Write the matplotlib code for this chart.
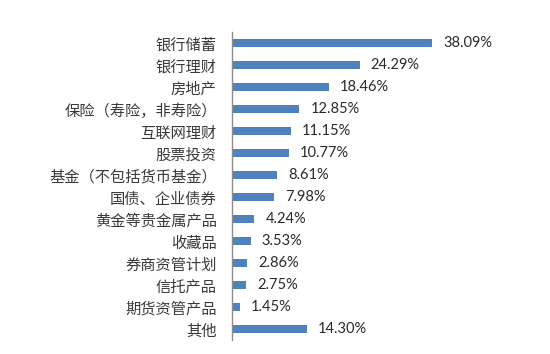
import matplotlib
matplotlib.use("Agg")
import matplotlib.pyplot as plt

categories = ["银行储蓄", "银行理财", "房地产", "保险（寿险，非寿险）", "互联网理财", "股票投资",
              "基金（不包括货币基金）", "国债、企业债券", "黄金等贵金属产品", "收藏品",
              "券商资管计划", "信托产品", "期货资管产品", "其他"]
values = [38.09, 24.29, 18.46, 12.85, 11.15, 10.77, 8.61, 7.98, 4.24, 3.53, 2.86, 2.75, 1.45, 14.30]
value_labels = ["38.09%", "24.29%", "18.46%", "12.85%", "11.15%", "10.77%", "8.61%", "7.98%",
                "4.24%", "3.53%", "2.86%", "2.75%", "1.45%", "14.30%"]

plt.rcParams['font.family'] = ['Noto Sans CJK SC', 'DejaVu Sans']

fig = plt.figure(figsize=(5.5, 3.54), dpi=100)
ax = fig.add_axes([232/550, 1-340/354, (540-232)/550, (340-32)/354])

y = list(range(len(categories)))
ax.barh(y, values, height=0.37, color="#4F81BD", edgecolor="none")
ax.set_ylim(len(categories)-0.5, -0.5)
ax.set_xlim(0, 308/5.25)
ax.set_yticks(y)
ax.set_yticklabels(categories, fontsize=11, color="#3a3a3a")
ax.tick_params(axis='y', length=0, pad=11)
ax.set_xticks([])
for s in ["top", "right", "bottom"]:
    ax.spines[s].set_visible(False)
ax.spines["left"].set_color("#8c8c8c")
ax.spines["left"].set_linewidth(1.0)

for yi, v, lab in zip(y, values, value_labels):
    ax.annotate(lab, (v, yi), xytext=(8, 0), textcoords="offset points",
                va="center", ha="left", fontsize=10.5, color="#2a2a2a", family="Lato")

fig.savefig("out.png", dpi=100)
